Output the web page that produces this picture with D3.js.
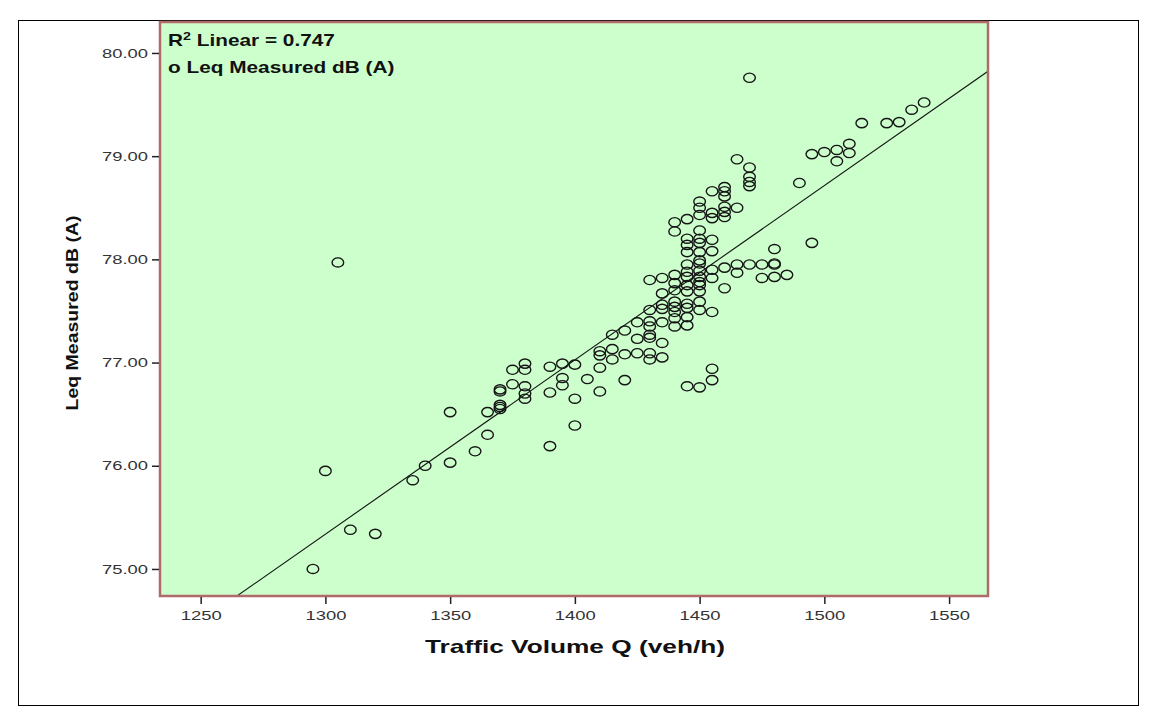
<!DOCTYPE html>
<html>
<head>
<meta charset="utf-8">
<script src="https://cdn.jsdelivr.net/npm/d3@7"></script>
<style>
  html, body { margin: 0; padding: 0; background: #ffffff; }
  svg { display: block; }
</style>
</head>
<body>
<svg id="chart" width="1156" height="720"></svg>
<script>
// Traffic volume (veh/h) and the measured Leq values recorded at each volume
const volumes = [
  1295, 1300, 1305, 1310, 1320, 1335, 1340,
  1350, 1350, 1360, 1365, 1365,
  1370, 1370, 1370, 1370, 1370,
  1375, 1375,
  1380, 1380, 1380, 1380, 1380,
  1390, 1390, 1390,
  1395, 1395, 1395,
  1400, 1400, 1400,
  1405,
  1410, 1410, 1410, 1410,
  1415, 1415, 1415,
  1420, 1420, 1420,
  1425, 1425, 1425,
  1430, 1430, 1430, 1430, 1430, 1430, 1430, 1430,
  1435, 1435, 1435, 1435, 1435, 1435, 1435,
  1440, 1440, 1440, 1440, 1440, 1440, 1440, 1440, 1440, 1440,
  1445, 1445, 1445, 1445, 1445, 1445, 1445, 1445, 1445, 1445, 1445, 1445, 1445, 1445,
  1450, 1450, 1450, 1450, 1450, 1450, 1450, 1450, 1450, 1450, 1450, 1450, 1450, 1450, 1450, 1450, 1450,
  1455, 1455, 1455, 1455, 1455, 1455, 1455, 1455, 1455, 1455,
  1460, 1460, 1460, 1460, 1460, 1460, 1460, 1460,
  1465, 1465, 1465, 1465,
  1470, 1470, 1470, 1470, 1470, 1470,
  1475, 1475,
  1480, 1480, 1480, 1480,
  1485, 1490, 1495, 1495, 1500, 1505, 1505, 1510, 1510,
  1515, 1525, 1530, 1535, 1540
];
const leqMeasured = [
  75.00, 75.95, 77.97, 75.38, 75.34, 75.86, 76.00,
  76.52, 76.03, 76.14, 76.52, 76.30,
  76.74, 76.72, 76.59, 76.57, 76.55,
  76.93, 76.79,
  76.99, 76.93, 76.77, 76.70, 76.65,
  76.96, 76.71, 76.19,
  76.99, 76.85, 76.78,
  76.98, 76.65, 76.39,
  76.84,
  77.11, 77.07, 76.95, 76.72,
  77.27, 77.13, 77.03,
  77.31, 77.08, 76.83,
  77.39, 77.23, 77.09,
  77.80, 77.51, 77.40, 77.35, 77.27, 77.24, 77.09, 77.03,
  77.82, 77.67, 77.56, 77.52, 77.39, 77.19, 77.05,
  78.36, 78.27, 77.85, 77.77, 77.70, 77.59, 77.54, 77.49, 77.43, 77.35,
  78.39, 78.20, 78.14, 78.07, 77.95, 77.88, 77.83, 77.75, 77.69, 77.57, 77.53, 77.44, 77.36, 76.77,
  78.56, 78.50, 78.43, 78.28, 78.20, 78.16, 78.07, 77.99, 77.96, 77.89, 77.83, 77.78, 77.75, 77.69, 77.59, 77.51, 76.76,
  78.66, 78.45, 78.40, 78.19, 78.08, 77.90, 77.82, 77.49, 76.94, 76.83,
  78.70, 78.66, 78.61, 78.51, 78.46, 78.41, 77.92, 77.72,
  78.97, 78.50, 77.95, 77.87,
  79.76, 78.89, 78.80, 78.75, 78.71, 77.95,
  77.95, 77.82,
  78.10, 77.96, 77.95, 77.83,
  77.85, 78.74, 79.02, 78.16, 79.04, 79.06, 78.95, 79.12, 79.03,
  79.32, 79.32, 79.33, 79.45, 79.52
];

// Axis ticks
const xTickValues = [1250, 1300, 1350, 1400, 1450, 1500, 1550];
const yTickValues = [75, 76, 77, 78, 79, 80];

// Linear fit: Leq = fitIntercept + fitSlope * Q
const fitIntercept = 53.38;
const fitSlope = 0.01689;
const rSquared = "0.747";

const FONT = "Liberation Sans, Arial, sans-serif";
const svg = d3.select("#chart");
const plot = { left: 160, top: 22, right: 988, bottom: 596 };

// Outer figure border
svg.append("rect")
  .attr("x", 18.5).attr("y", 20.5)
  .attr("width", 1120).attr("height", 685)
  .attr("fill", "none").attr("stroke", "#000").attr("stroke-width", 1);

const x = d3.scaleLinear().domain([1233.7, 1565.6]).range([plot.left, plot.right]);
const y = d3.scaleLinear().domain([74.738, 80.30]).range([plot.bottom, plot.top]);

// Plot background
svg.append("rect")
  .attr("x", plot.left).attr("y", plot.top)
  .attr("width", plot.right - plot.left).attr("height", plot.bottom - plot.top)
  .attr("fill", "#ccffcc");

svg.append("clipPath").attr("id", "plotClip")
  .append("rect")
  .attr("x", plot.left).attr("y", plot.top)
  .attr("width", plot.right - plot.left).attr("height", plot.bottom - plot.top);

// Fit line
const xd = x.domain();
svg.append("line")
  .attr("clip-path", "url(#plotClip)")
  .attr("x1", x(xd[0])).attr("y1", y(fitIntercept + fitSlope * xd[0]))
  .attr("x2", x(xd[1])).attr("y2", y(fitIntercept + fitSlope * xd[1]))
  .attr("stroke", "#111").attr("stroke-width", 1.1);

// Observations
const points = volumes.map((q, i) => ({ q, leq: leqMeasured[i] }));
svg.append("g")
  .attr("clip-path", "url(#plotClip)")
  .selectAll("ellipse")
  .data(points)
  .join("ellipse")
  .attr("cx", d => x(d.q))
  .attr("cy", d => y(d.leq))
  .attr("rx", 5.8).attr("ry", 4.6)
  .attr("fill", "none")
  .attr("stroke", "#151515")
  .attr("stroke-width", 1.4);

// Plot frame
svg.append("rect")
  .attr("x", plot.left).attr("y", plot.top)
  .attr("width", plot.right - plot.left).attr("height", plot.bottom - plot.top)
  .attr("fill", "none").attr("stroke", "#b06a6a").attr("stroke-width", 2.5);

// Axes
const xAxis = d3.axisBottom(x).tickValues(xTickValues).tickFormat(d3.format("d"))
  .tickSize(7).tickSizeOuter(0);
const gx = svg.append("g").attr("transform", `translate(0,${plot.bottom + 1})`).call(xAxis);
gx.select(".domain").remove();
gx.selectAll(".tick line").attr("stroke", "#222").attr("stroke-width", 1.5);
gx.selectAll(".tick text")
  .attr("font-family", FONT)
  .attr("font-size", 13).attr("fill", "#333").attr("dy", "1.0em")
  .attr("textLength", 41).attr("lengthAdjust", "spacingAndGlyphs");

const yAxis = d3.axisLeft(y).tickValues(yTickValues).tickFormat(d3.format(".2f"))
  .tickSize(7).tickSizeOuter(0);
const gy = svg.append("g").attr("transform", `translate(${plot.left - 1},0)`).call(yAxis);
gy.select(".domain").remove();
gy.selectAll(".tick line").attr("stroke", "#222").attr("stroke-width", 1.5);
gy.selectAll(".tick text")
  .attr("font-family", FONT)
  .attr("font-size", 13).attr("fill", "#333").attr("x", -11)
  .attr("textLength", 46).attr("lengthAdjust", "spacingAndGlyphs");

// Axis titles
svg.append("text")
  .attr("x", 575).attr("y", 653)
  .attr("text-anchor", "middle")
  .attr("font-family", FONT)
  .attr("font-weight", "bold").attr("font-size", 19).attr("fill", "#111")
  .attr("textLength", 300).attr("lengthAdjust", "spacingAndGlyphs")
  .text("Traffic Volume Q (veh/h)");

svg.append("text")
  .attr("transform", `translate(78,313) rotate(-90)`)
  .attr("text-anchor", "middle")
  .attr("font-family", FONT)
  .attr("font-weight", "bold").attr("font-size", 17).attr("fill", "#111")
  .attr("textLength", 195).attr("lengthAdjust", "spacingAndGlyphs")
  .text("Leq Measured dB (A)");

// Legend text inside the plot, set slightly wide
const legend = svg.append("g")
  .attr("transform", "translate(168,0) scale(1.3,1)")
  .attr("font-family", FONT)
  .attr("font-weight", "bold").attr("font-size", 16).attr("fill", "#111");
const r2 = legend.append("text").attr("x", 0).attr("y", 46);
r2.append("tspan").text("R");
r2.append("tspan").attr("font-size", 11).attr("dy", -6).text("2");
r2.append("tspan").attr("dy", 6).text(" Linear = " + rSquared);
legend.append("text").attr("x", 0).attr("y", 73).text("o Leq Measured dB (A)");
</script>
</body>
</html>
